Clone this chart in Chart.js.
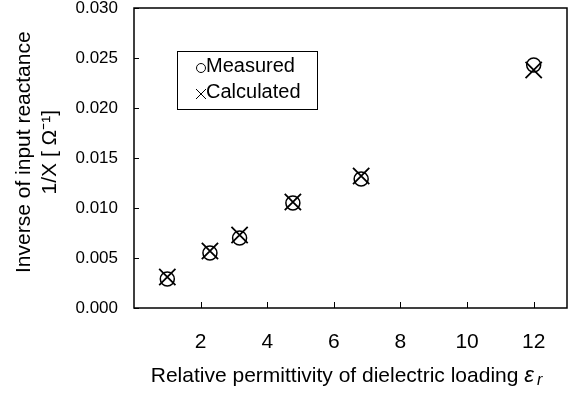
<!DOCTYPE html>
<html>
<head>
<meta charset="utf-8">
<script src="https://cdn.jsdelivr.net/npm/chart.js@4.4.0/dist/chart.umd.min.js"></script>
<style>
  body { margin: 0; background: #fff; }
  #wrap { width: 571px; height: 394px; }
</style>
</head>
<body>
<div id="wrap"><canvas id="reactChart" width="571" height="394"></canvas></div>
<script>
// Andmed (loetud pildilt)
const permittivity = [1.0, 2.28, 3.17, 4.77, 6.82, 12.0];
const measured = [0.0029, 0.0055, 0.0070, 0.0105, 0.0129, 0.0243];
const calculated = [0.0031, 0.0057, 0.0073, 0.0106, 0.0132, 0.0238];
const xTickValues = [2, 4, 6, 8, 10, 12];
const yTickValues = [0, 0.005, 0.010, 0.015, 0.020, 0.025, 0.030];
const legendLabels = ['Measured', 'Calculated'];
const xTitle = 'Relative permittivity of dielectric loading ';
const xTitleSymbol = 'ε';
const xTitleSub = 'r';

const FONT = 'Arial, "Liberation Sans", sans-serif';

function toPoints(xs, ys) {
    return xs.map((x, i) => ({ x: x, y: ys[i] }));
}

// raam + sissepoole suunatud tickid + legend graafiku sees + x-telje pealkiri
const framePlugin = {
    id: 'frame',
    afterDraw(chart) {
        const ctx = chart.ctx;
        const a = chart.chartArea;
        const xs = chart.scales.x;
        const ys = chart.scales.y;
        ctx.save();
        ctx.strokeStyle = '#000';
        ctx.lineWidth = 1.5;
        ctx.strokeRect(a.left, a.top, a.right - a.left, a.bottom - a.top);

        ctx.lineWidth = 1;
        ctx.beginPath();
        xTickValues.forEach(v => {
            const px = Math.round(xs.getPixelForValue(v)) + 0.5;
            ctx.moveTo(px, a.bottom);
            ctx.lineTo(px, a.bottom - 6);
        });
        yTickValues.forEach(v => {
            const py = Math.round(ys.getPixelForValue(v)) + 0.5;
            ctx.moveTo(a.left, py);
            ctx.lineTo(a.left + 5, py);
        });
        ctx.stroke();

        // legend
        const lx = a.left + 43, ly = a.top + 43;
        ctx.lineWidth = 1;
        ctx.strokeRect(lx + 0.5, ly + 0.5, 140, 58);
        ctx.font = '20px ' + FONT;
        ctx.fillStyle = '#000';
        ctx.textBaseline = 'middle';
        ctx.textAlign = 'left';
        ctx.fillText(legendLabels[0], lx + 29, ly + 15);
        ctx.fillText(legendLabels[1], lx + 29, ly + 41);
        // ring
        ctx.beginPath();
        ctx.arc(lx + 24, ly + 17, 4.5, 0, Math.PI * 2);
        ctx.stroke();
        // rist
        ctx.beginPath();
        ctx.moveTo(lx + 19, ly + 38);
        ctx.lineTo(lx + 29, ly + 48);
        ctx.moveTo(lx + 29, ly + 38);
        ctx.lineTo(lx + 19, ly + 48);
        ctx.stroke();

        // x-telje pealkiri (epsilon kaldkirjas, r alaindeksina)
        const fMain = '21px ' + FONT;
        const fSym = 'italic 22px ' + FONT;
        const fSub = 'italic 16px ' + FONT;
        ctx.font = fMain;
        const w1 = ctx.measureText(xTitle).width;
        ctx.font = fSym;
        const w2 = ctx.measureText(xTitleSymbol).width;
        ctx.font = fSub;
        const w3 = ctx.measureText(xTitleSub).width;
        const total = w1 + w2 + 3 + w3;
        let tx = (a.left + a.right) / 2 - 4 - total / 2;
        const base = 382;
        ctx.textBaseline = 'alphabetic';
        ctx.font = fMain;
        ctx.fillText(xTitle, tx, base);
        tx += w1;
        ctx.font = fSym;
        ctx.fillText(xTitleSymbol, tx, base);
        tx += w2 + 3;
        ctx.font = fSub;
        ctx.fillText(xTitleSub, tx, base + 3);
        ctx.restore();
    }
};

const ctx = document.getElementById('reactChart').getContext('2d');
const chart = new Chart(ctx, {
    type: 'scatter',
    data: {
        datasets: [{
            label: legendLabels[0],
            data: toPoints(permittivity, measured),
            pointStyle: 'circle',
            pointRadius: 7,
            pointBorderWidth: 1.5,
            borderColor: '#000',
            backgroundColor: 'rgba(0,0,0,0)'
        }, {
            label: legendLabels[1],
            data: toPoints(permittivity, calculated),
            pointStyle: 'crossRot',
            pointRadius: 11.5,
            pointBorderWidth: 1.8,
            borderColor: '#000',
            backgroundColor: '#000'
        }]
    },
    options: {
        responsive: false,
        animation: false,
        layout: { autoPadding: false, padding: { top: 8, right: 4, left: 0, bottom: 0 } },
        plugins: {
            legend: { display: false },
            tooltip: { enabled: false }
        },
        scales: {
            x: {
                type: 'linear',
                min: 0,
                max: 13,
                afterFit(scale) {
                    scale.height = 86;
                    scale.paddingLeft = 0;
                    scale.paddingRight = 0;
                },
                grid: { display: false, drawTicks: false },
                border: { display: false },
                ticks: {
                    stepSize: 2,
                    includeBounds: false,
                    autoSkip: false,
                    maxRotation: 0,
                    padding: 22,
                    color: '#000',
                    font: { family: FONT, size: 21 },
                    callback: function (v) {
                        return xTickValues.includes(v) ? String(v) : '';
                    }
                },
                title: { display: false }
            },
            y: {
                min: 0,
                max: 0.03,
                afterFit(scale) {
                    scale.width = 134;
                    scale.paddingTop = 0;
                    scale.paddingBottom = 0;
                },
                grid: { display: false, drawTicks: false },
                border: { display: false },
                ticks: {
                    stepSize: 0.005,
                    padding: 16,
                    color: '#000',
                    font: { family: FONT, size: 17 },
                    callback: function (v) { return v.toFixed(3); }
                },
                title: {
                    display: true,
                    text: ['  Inverse of input reactance', '  1/X [ Ω⁻¹]'],
                    color: '#000',
                    font: { family: FONT, size: 21 },
                    padding: { top: 12, bottom: 0 }
                }
            }
        }
    },
    plugins: [framePlugin]
});
</script>
</body>
</html>
